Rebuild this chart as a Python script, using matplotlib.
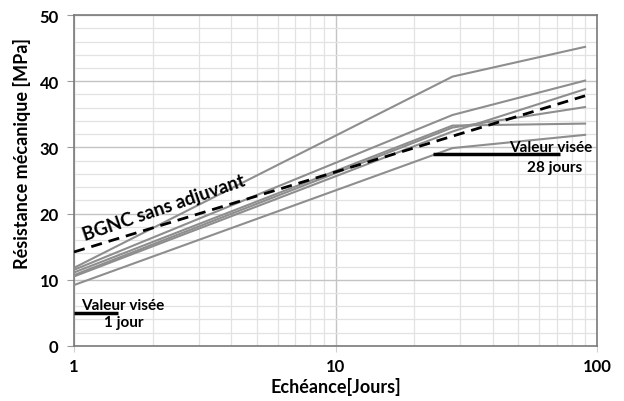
import matplotlib
matplotlib.use("Agg")
import matplotlib.pyplot as plt
from matplotlib.ticker import FixedLocator, NullFormatter, MultipleLocator

plt.rcParams['font.family'] = ['Lato', 'DejaVu Sans']

# ages (days) and strengths (MPa)
days = [1, 28, 90]
series = [
    [11.8, 40.7, 45.2],
    [11.5, 34.9, 40.1],
    [11.1, 33.3, 33.6],
    [10.7, 33.0, 36.1],
    [10.5, 32.4, 38.8],
    [9.2, 29.9, 31.9],
]
ref_days = [1, 28, 90]
ref_vals = [14.2, 31.7, 37.8]   # BGNC sans adjuvant

# target values
target_1j_x = [1, 1.47]
target_1j_y = [5, 5]
target_28j_x = [23.6, 72]
target_28j_y = [29, 29]

fig = plt.figure(figsize=(6.24, 4.02), dpi=100)
ax = fig.add_axes([0.1186, 0.137, 0.8382, 0.823])

for s in series:
    ax.plot(days, s, color='#8e8e8e', lw=1.5, zorder=3)
ax.plot(ref_days, ref_vals, color='black', lw=2, ls=(0, (4, 2.5)), zorder=4)

ax.plot(target_1j_x, target_1j_y, color='black', lw=2.5, solid_capstyle='butt', zorder=4)
ax.plot(target_28j_x, target_28j_y, color='black', lw=2.5, solid_capstyle='butt', zorder=4)

ax.set_xscale('log')
ax.set_xlim(1, 100)
ax.set_ylim(0, 50)
ax.yaxis.set_major_locator(MultipleLocator(10))
ax.yaxis.set_minor_locator(MultipleLocator(2))
ax.xaxis.set_major_locator(FixedLocator([1, 10, 100]))
ax.xaxis.set_minor_locator(FixedLocator([2, 3, 4, 5, 6, 7, 8, 9, 20, 30, 40, 50, 60, 70, 80, 90]))
ax.xaxis.set_minor_formatter(NullFormatter())
ax.set_xticklabels(['1', '10', '100'])

ax.grid(which='major', color='#c4c4c4', lw=1.0)
ax.grid(which='minor', color='#e2e2e2', lw=0.9)
ax.set_axisbelow(True)

for sp in ax.spines.values():
    sp.set_color('#7a7a7a')
    sp.set_linewidth(1.2)

ax.tick_params(axis='y', which='major', length=5, color='#9a9a9a', labelsize=12, pad=6)
ax.tick_params(axis='x', which='major', length=4, color='#d0d0d0', labelsize=12, pad=5)
ax.tick_params(which='minor', length=0)
for lab in ax.get_xticklabels() + ax.get_yticklabels():
    lab.set_fontweight('bold')

ax.set_ylabel('Résistance mécanique [MPa]', fontsize=13, fontweight='bold')
ax.yaxis.set_label_coords(-0.082, 0.586)
ax.set_xlabel('Echéance[Jours]', fontsize=13, fontweight='bold')
ax.xaxis.set_label_coords(0.5, -0.093)

ax.text(2.2, 20.9, 'BGNC sans adjuvant', fontsize=13.5, fontweight='bold',
        rotation=19, ha='center', va='center', zorder=5)

ax.text(1.06, 6.2, 'Valeur visée', fontsize=11, fontweight='bold', ha='left', va='center')
ax.text(1.55, 3.6, '1 jour', fontsize=11, fontweight='bold', ha='center', va='center')
ax.text(96, 30.1, 'Valeur visée', fontsize=11, fontweight='bold', ha='right', va='center')
ax.text(69, 27.1, '28 jours', fontsize=11, fontweight='bold', ha='center', va='center')

fig.savefig('out.png', dpi=100)
